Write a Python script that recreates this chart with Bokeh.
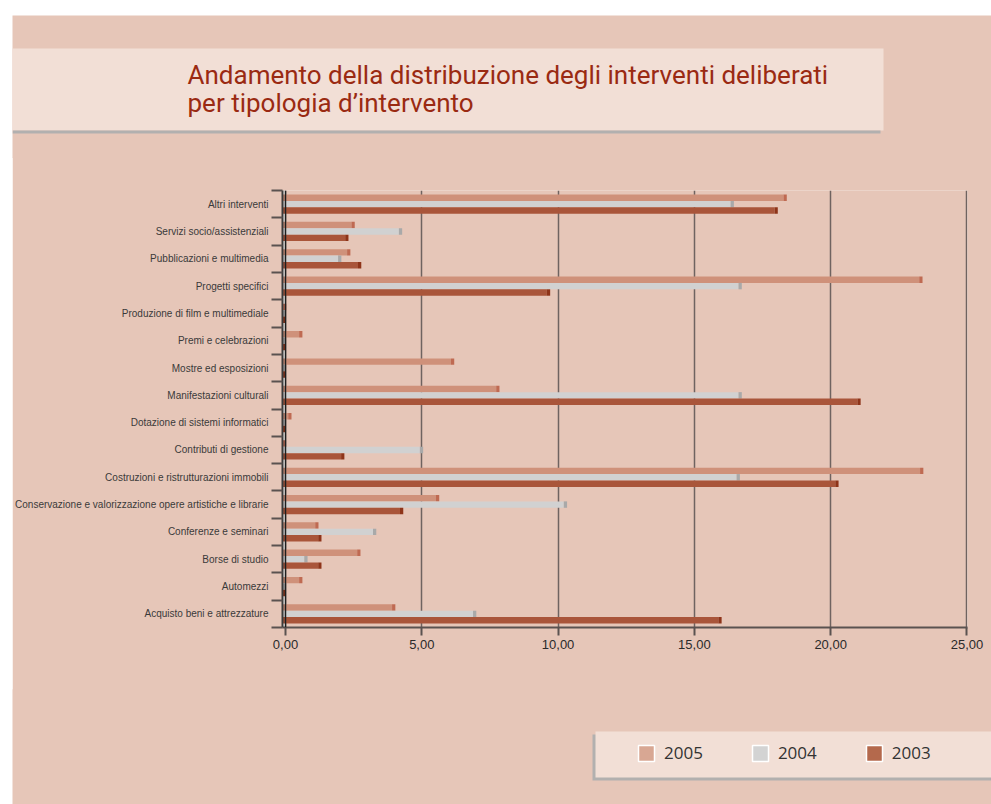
import numpy as np
from bokeh.plotting import figure
from bokeh.models import (Range1d, LinearAxis, FixedTicker,
                          BoxAnnotation, Label, Legend, LegendItem, ColumnDataSource, Span)
from bokeh.transform import dodge
from bokeh.embed import file_html
from bokeh.resources import INLINE

# ---------------- data ----------------
categories = [
    "Altri interventi",
    "Servizi socio/assistenziali",
    "Pubblicazioni e multimedia",
    "Progetti specifici",
    "Produzione di film e multimediale",
    "Premi e celebrazioni",
    "Mostre ed esposizioni",
    "Manifestazioni culturali",
    "Dotazione di sistemi informatici",
    "Contributi di gestione",
    "Costruzioni e ristrutturazioni immobili",
    "Conservazione e valorizzazione opere artistiche e librarie",
    "Conferenze e seminari",
    "Borse di studio",
    "Automezzi",
    "Acquisto beni e attrezzature",
]
v2005 = [18.39, 2.54, 2.38, 23.37, 0.03, 0.62, 6.19, 7.85, 0.22, 0.02, 23.40, 5.64, 1.21, 2.75, 0.62, 4.03]
v2004 = [16.45, 4.28, 2.05, 16.74, 0.00, 0.00, 0.00, 16.74, 0.00, 5.05, 16.67, 10.33, 3.33, 0.81, 0.00, 7.00]
v2003 = [18.06, 2.31, 2.78, 9.71, 0.00, 0.00, 0.00, 21.10, 0.00, 2.16, 20.29, 4.32, 1.32, 1.32, 0.00, 16.00]
years = ["2005", "2004", "2003"]
x_ticks = [0, 5, 10, 15, 20, 25]
x_tick_labels = ["0,00", "5,00", "10,00", "15,00", "20,00", "25,00"]
title_lines = ["Andamento della distribuzione degli interventi deliberati",
               "per tipologia d\u2019intervento"]

# ---------------- style ----------------
BG = "#e6c6b8"
PANEL = "#f2dfd6"
SHADOW = "#b2b0af"
FACE = {"2005": "#cf917a", "2004": "#d1d1d1", "2003": "#a9553a"}
CAP = {"2005": "#bf6a52", "2004": "#a9a9a9", "2003": "#8e3419"}
SWATCH = {"2005": "#d8a793", "2004": "#d3d3d3", "2003": "#b4694c"}
OFFSET = {"2005": 0.235, "2004": 0.0, "2003": -0.235}
DEPTH = 0.12
SANS = "Liberation Sans"
W = 979
HA, HB, HC = 143, 533, 115


def blank(height, margin):
    f = figure(width=W, height=height, output_backend="svg", toolbar_location=None,
               x_range=Range1d(0, W), y_range=Range1d(height, 0),
               x_axis_location=None, y_axis_location=None, margin=margin,
               min_border_left=0, min_border_right=0, min_border_top=0, min_border_bottom=0)
    f.background_fill_color = BG
    f.border_fill_color = BG
    f.outline_line_color = None
    f.grid.visible = False
    return f


def box(f, l, r, t, b, color):
    f.add_layout(BoxAnnotation(left=l, right=r, top=t, bottom=b, fill_color=color, fill_alpha=1,
                               line_color=None, level="underlay"))


# ---------------- title strip ----------------
pa = blank(HA, (15, 0, 0, 12))
box(pa, 0, 871, 33, 115, PANEL)
box(pa, 0, 868, 115, 118, SHADOW)
for i, t in enumerate(title_lines):
    pa.add_layout(Label(x=175, y=59 + i * 28, text=t, text_font="Roboto", text_font_size="26px",
                        text_color="#9a2a12", text_baseline="alphabetic"))

# ---------------- main chart ----------------
n = len(categories)
slot = [n - 1 - i + 0.5 for i in range(n)]  # category centre on the numeric y scale (top first)

p = figure(width=W, height=HB, output_backend="svg", toolbar_location=None,
           x_range=Range1d(-0.11, 25.02), y_range=Range1d(0, n),
           y_axis_location=None, margin=(-1, 0, 0, 12),
           min_border_left=269, min_border_right=24, min_border_top=33, min_border_bottom=63)
p.background_fill_color = BG
p.border_fill_color = BG
p.outline_line_color = None

xa = p.xaxis[0]
xa.ticker = FixedTicker(ticks=x_ticks)
xa.major_label_overrides = {t: l for t, l in zip(x_ticks, x_tick_labels)}
xa.major_tick_out = 8
xa.major_tick_in = 0
xa.minor_tick_out = 0
xa.axis_line_color = "#5a5250"
xa.axis_line_width = 2
xa.major_tick_line_color = "#5a5250"
xa.major_tick_line_width = 2
xa.major_label_text_font = SANS
xa.major_label_text_font_size = "13px"
xa.major_label_text_color = "#2a2a2a"
xa.major_label_standoff = 4

p.xgrid.ticker = FixedTicker(ticks=x_ticks)
p.xgrid.grid_line_color = "#6f6360"
p.xgrid.grid_line_width = 1.5
p.ygrid.visible = False

bounds = list(range(n + 1))
bax = LinearAxis(ticker=FixedTicker(ticks=bounds),
                 major_label_overrides={b: "" for b in bounds},
                 major_label_text_font_size="1px", major_label_standoff=0,
                 major_tick_out=11, major_tick_in=0, minor_tick_out=0, minor_tick_in=0,
                 axis_line_color="#3a3a3a", axis_line_width=2,
                 major_tick_line_color="#5a5250", major_tick_line_width=2)
p.add_layout(bax, "left")
cax = LinearAxis(ticker=FixedTicker(ticks=slot),
                 major_label_overrides={s: c for s, c in zip(slot, categories)},
                 axis_line_color=None, major_tick_line_color=None, minor_tick_line_color=None,
                 major_tick_out=0, major_tick_in=0, minor_tick_out=0, minor_tick_in=0,
                 major_label_standoff=3, major_label_text_font=SANS,
                 major_label_text_font_size="10px", major_label_text_color="#3a3a3a")
p.add_layout(cax, "left")

p.add_layout(BoxAnnotation(left=-0.11, right=0, fill_color="#f5f0ed", fill_alpha=1,
                           line_color=None, level="underlay"))
p.add_layout(Span(location=0, dimension="height", line_color="#1e1e1e", line_width=1.5))

data = dict(cat=categories, slot=slot)
for y, vals in zip(years, [v2005, v2004, v2003]):
    data["r" + y] = [v - DEPTH for v in vals]
    data["c" + y] = vals
src = ColumnDataSource(data)
for y in years:
    p.hbar(y=dodge("slot", OFFSET[y]), left=-DEPTH, right="r" + y,
           height=0.235, fill_color=FACE[y], line_color=None, source=src)
    p.hbar(y=dodge("slot", OFFSET[y]), left="r" + y, right="c" + y,
           height=0.235, fill_color=CAP[y], line_color=None, source=src)

# ---------------- legend strip ----------------
pc = blank(HC, (-1, 0, 0, 12))
box(pc, 580, W, 45, 91, SHADOW)
box(pc, 583, W, 42, 88, PANEL)
nan = np.array([np.nan])
leg_items = []
for y in years:
    r = pc.hbar(y=nan, left=nan, right=nan, height=1, fill_color=SWATCH[y],
                line_color="white", line_width=1.5)
    leg_items.append(LegendItem(label=y, renderers=[r]))
legend = Legend(items=leg_items, orientation="horizontal", location=(624, 40),
                glyph_width=20, glyph_height=20, label_height=19, label_standoff=8, spacing=47,
                label_text_font="Open Sans", label_text_font_size="17px", label_text_color="#333333",
                background_fill_alpha=0, border_line_color=None, padding=0, margin=0)
pc.add_layout(legend, "center")

open("out.html", "w").write(file_html([pa, p, pc], INLINE))
